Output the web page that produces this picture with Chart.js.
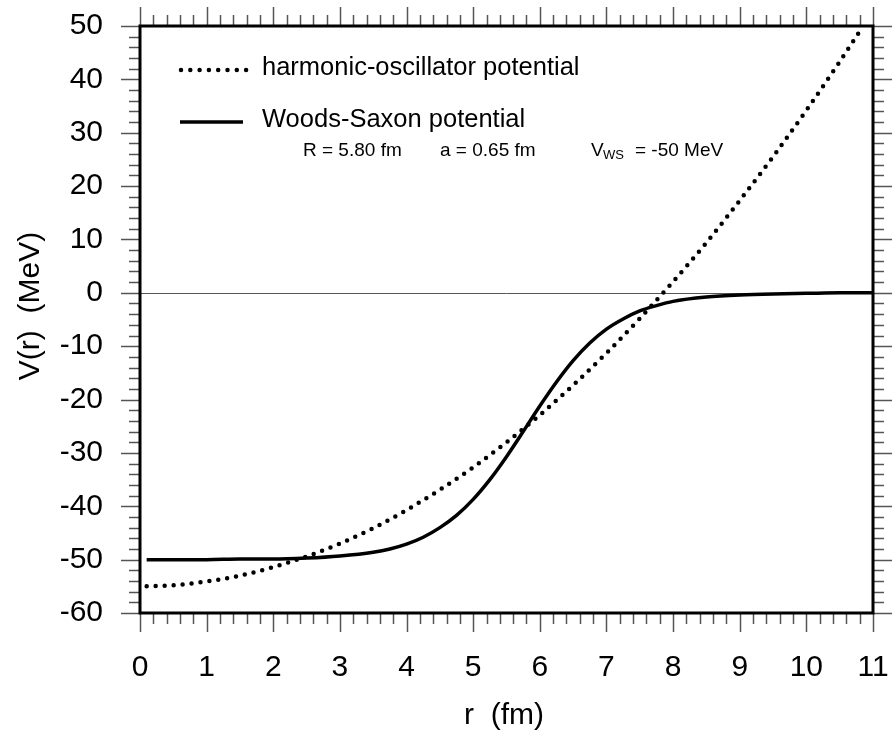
<!DOCTYPE html>
<html>
<head>
<meta charset="utf-8">
<script src="https://cdn.jsdelivr.net/npm/chart.js@4.4.1/dist/chart.umd.min.js"></script>
<style>
  html, body { margin: 0; padding: 0; background: #fff; }
  #wrap { width: 892px; height: 732px; position: relative; }
</style>
</head>
<body>
<div id="wrap"><canvas id="chart"></canvas></div>
<script>
// values
const radiusHO = [0.1, 0.5, 1, 1.5, 2, 2.5, 3, 3.5, 4, 4.5, 5, 5.5, 6, 6.5, 7, 7.5, 8, 8.5, 9, 9.5, 10, 10.5, 10.8];
const harmonicOsc = [-55.0, -54.8, -54.1, -53.0, -51.4, -49.4, -47.0, -44.1, -40.7, -36.9, -32.7, -28.0, -22.9, -17.3, -11.3, -4.8, 2.1, 9.4, 17.3, 25.5, 34.2, 43.3, 49.0];

const radiusWS = [0.1, 0.5, 1, 1.5, 2, 2.5, 3, 3.5, 3.75, 4, 4.25, 4.5, 4.75, 5, 5.25, 5.5, 5.75, 6, 6.25, 6.5, 6.75, 7, 7.25, 7.5, 7.75, 8, 8.5, 9, 9.5, 10, 10.5, 11];
const woodsSaxon = [-50.0, -50.0, -50.0, -49.9, -49.9, -49.7, -49.3, -48.6, -48.0, -47.1, -45.8, -44.0, -41.7, -38.7, -35.0, -30.7, -26.0, -21.2, -16.7, -12.7, -9.4, -6.8, -4.9, -3.4, -2.4, -1.6, -0.8, -0.4, -0.2, -0.1, 0, 0];

const xTicks = [0, 1, 2, 3, 4, 5, 6, 7, 8, 9, 10, 11];
const yTicks = [-60, -50, -40, -30, -20, -10, 0, 10, 20, 30, 40, 50];

const FONT = '"Liberation Sans", Arial, Helvetica, sans-serif';

const toPoints = (xs, ys) => xs.map((x, i) => ({ x: x, y: ys[i] }));

// no extra room for overhanging tick labels, layout padding decides the plot box
const noPad = (s) => {
  s.paddingTop = 0; s.paddingBottom = 0;
  s.paddingLeft = 0; s.paddingRight = 0;
};

// frame, outward minor/major ticks on all four sides, zero line, legend, axis titles
const framePlugin = {
  id: 'frame',
  beforeDatasetsDraw(chart) {
    const { ctx, chartArea: a, scales: { y } } = chart;
    ctx.save();
    ctx.strokeStyle = '#555';
    ctx.lineWidth = 1;
    const y0 = Math.round(y.getPixelForValue(0)) + 0.5;
    ctx.beginPath();
    ctx.moveTo(a.left, y0);
    ctx.lineTo(a.right, y0);
    ctx.stroke();
    ctx.restore();
  },
  afterDraw(chart) {
    const { ctx, chartArea: a, scales: { x, y } } = chart;
    ctx.save();
    ctx.strokeStyle = '#555';
    ctx.lineWidth = 1.5;
    ctx.beginPath();
    for (let i = 0; i <= 55; i++) {
      const px = Math.round(x.getPixelForValue(i * 0.2)) + 0.5;
      const len = i % 5 === 0 ? 19 : 11;
      ctx.moveTo(px, a.bottom); ctx.lineTo(px, a.bottom + len);
      ctx.moveTo(px, a.top); ctx.lineTo(px, a.top - len);
    }
    for (let j = 0; j <= 55; j++) {
      const py = Math.round(y.getPixelForValue(-60 + j * 2)) + 0.5;
      const len = j % 5 === 0 ? 19 : 11;
      ctx.moveTo(a.left, py); ctx.lineTo(a.left - len, py);
      ctx.moveTo(a.right, py); ctx.lineTo(a.right + len, py);
    }
    ctx.stroke();

    ctx.strokeStyle = '#000';
    ctx.lineWidth = 3;
    ctx.strokeRect(a.left, a.top, a.right - a.left, a.bottom - a.top);

    // legend
    ctx.fillStyle = '#000';
    ctx.strokeStyle = '#000';
    ctx.lineCap = 'round';
    ctx.lineWidth = 4.5;
    ctx.setLineDash([0, 9.3]);
    ctx.beginPath();
    ctx.moveTo(181, 70); ctx.lineTo(248, 70);
    ctx.stroke();
    ctx.setLineDash([]);
    ctx.lineCap = 'butt';
    ctx.lineWidth = 3.5;
    ctx.beginPath();
    ctx.moveTo(180, 122); ctx.lineTo(243, 122);
    ctx.stroke();

    ctx.textBaseline = 'alphabetic';
    ctx.textAlign = 'left';
    ctx.font = '25.5px ' + FONT;
    ctx.fillText('harmonic-oscillator potential', 262, 75);
    ctx.fillText('Woods-Saxon potential', 262, 127);

    ctx.font = '19px ' + FONT;
    ctx.fillText('R = 5.80 fm', 303, 156);
    ctx.fillText('a = 0.65 fm', 440, 156);
    ctx.fillText('V', 591, 156);
    ctx.font = '13px ' + FONT;
    ctx.fillText('WS', 603, 159);
    ctx.font = '19px ' + FONT;
    ctx.fillText('= -50 MeV', 635, 156);

    // axis titles
    ctx.font = '30px ' + FONT;
    ctx.textAlign = 'center';
    ctx.textBaseline = 'middle';
    ctx.fillText('r  (fm)', 504, 716);
    ctx.translate(31, 306);
    ctx.rotate(-Math.PI / 2);
    ctx.fillText('V(r)  (MeV)', 0, 0);
    ctx.restore();
  }
};

new Chart(document.getElementById('chart'), {
  type: 'line',
  data: {
    datasets: [
      {
        label: 'harmonic-oscillator potential',
        data: toPoints(radiusHO, harmonicOsc),
        borderColor: '#000',
        borderWidth: 4.5,
        borderDash: [0, 9],
        borderCapStyle: 'round',
        pointRadius: 0,
        fill: false,
        cubicInterpolationMode: 'monotone'
      },
      {
        label: 'Woods-Saxon potential',
        data: toPoints(radiusWS, woodsSaxon),
        borderColor: '#000',
        borderWidth: 3.5,
        pointRadius: 0,
        fill: false,
        cubicInterpolationMode: 'monotone'
      }
    ]
  },
  options: {
    responsive: true,
    maintainAspectRatio: false,
    animation: false,
    layout: { padding: { top: 26, right: 19, left: 0, bottom: 0 } },
    plugins: {
      legend: { display: false },
      tooltip: { enabled: false }
    },
    scales: {
      x: {
        type: 'linear',
        min: 0,
        max: 11,
        afterFit: (s) => { s.height = 119; noPad(s); },
        afterBuildTicks: (s) => { s.ticks = xTicks.map(v => ({ value: v })); },
        grid: { display: false, drawTicks: false },
        border: { display: false },
        ticks: {
          font: { family: FONT, size: 30 },
          color: '#000',
          padding: 37,
          maxRotation: 0,
          autoSkip: false
        }
      },
      y: {
        type: 'linear',
        min: -60,
        max: 50,
        afterFit: (s) => { s.width = 140; noPad(s); },
        afterBuildTicks: (s) => { s.ticks = yTicks.map(v => ({ value: v })); },
        grid: { display: false, drawTicks: false },
        border: { display: false },
        ticks: {
          font: { family: FONT, size: 30 },
          color: '#000',
          padding: 37,
          autoSkip: false
        }
      }
    }
  },
  plugins: [framePlugin]
});
</script>
</body>
</html>
